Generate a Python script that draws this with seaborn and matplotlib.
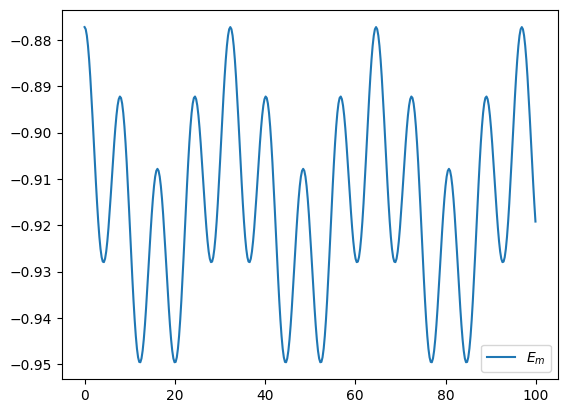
import numpy as np
import pandas as pd
import matplotlib
matplotlib.use("Agg")
import matplotlib.pyplot as plt
import seaborn as sns

# sampling step of the series (time units)
time_step = 0.25234375

# E_m values, one per time step
em_values = [
    -0.87720, -0.87766, -0.87903, -0.88126, -0.88425, -0.88792, -0.89211, -0.89667,
    -0.90145, -0.90625, -0.91092, -0.91528, -0.91918, -0.92248, -0.92508, -0.92688,
    -0.92784, -0.92794, -0.92720, -0.92566, -0.92340, -0.92054, -0.91720, -0.91354,
    -0.90973, -0.90592, -0.90231, -0.89904, -0.89628, -0.89415, -0.89276, -0.89219,
    -0.89250, -0.89369, -0.89576, -0.89864, -0.90225, -0.90648, -0.91119, -0.91623,
    -0.92144, -0.92663, -0.93162, -0.93627, -0.94040, -0.94388, -0.94661, -0.94849,
    -0.94948, -0.94955, -0.94873, -0.94706, -0.94462, -0.94153, -0.93791, -0.93391,
    -0.92972, -0.92548, -0.92139, -0.91760, -0.91427, -0.91152, -0.90948, -0.90823,
    -0.90780, -0.90823, -0.90948, -0.91152, -0.91427, -0.91760, -0.92139, -0.92548,
    -0.92972, -0.93391, -0.93791, -0.94153, -0.94462, -0.94706, -0.94873, -0.94955,
    -0.94948, -0.94849, -0.94661, -0.94388, -0.94040, -0.93627, -0.93162, -0.92663,
    -0.92144, -0.91623, -0.91119, -0.90648, -0.90225, -0.89864, -0.89576, -0.89369,
    -0.89250, -0.89219, -0.89276, -0.89415, -0.89628, -0.89904, -0.90231, -0.90592,
    -0.90973, -0.91354, -0.91720, -0.92054, -0.92340, -0.92566, -0.92720, -0.92794,
    -0.92784, -0.92688, -0.92508, -0.92248, -0.91918, -0.91528, -0.91092, -0.90625,
    -0.90145, -0.89667, -0.89211, -0.88792, -0.88425, -0.88126, -0.87903, -0.87766,
    -0.87720, -0.87766, -0.87903, -0.88126, -0.88425, -0.88792, -0.89211, -0.89667,
    -0.90145, -0.90625, -0.91092, -0.91528, -0.91918, -0.92248, -0.92508, -0.92688,
    -0.92784, -0.92794, -0.92720, -0.92566, -0.92340, -0.92054, -0.91720, -0.91354,
    -0.90973, -0.90592, -0.90231, -0.89904, -0.89628, -0.89415, -0.89276, -0.89219,
    -0.89250, -0.89369, -0.89576, -0.89864, -0.90225, -0.90648, -0.91119, -0.91623,
    -0.92144, -0.92663, -0.93162, -0.93627, -0.94040, -0.94388, -0.94661, -0.94849,
    -0.94948, -0.94955, -0.94873, -0.94706, -0.94462, -0.94153, -0.93791, -0.93391,
    -0.92972, -0.92548, -0.92139, -0.91760, -0.91427, -0.91152, -0.90948, -0.90823,
    -0.90780, -0.90823, -0.90948, -0.91152, -0.91427, -0.91760, -0.92139, -0.92548,
    -0.92972, -0.93391, -0.93791, -0.94153, -0.94462, -0.94706, -0.94873, -0.94955,
    -0.94948, -0.94849, -0.94661, -0.94388, -0.94040, -0.93627, -0.93162, -0.92663,
    -0.92144, -0.91623, -0.91119, -0.90648, -0.90225, -0.89864, -0.89576, -0.89369,
    -0.89250, -0.89219, -0.89276, -0.89415, -0.89628, -0.89904, -0.90231, -0.90592,
    -0.90973, -0.91354, -0.91720, -0.92054, -0.92340, -0.92566, -0.92720, -0.92794,
    -0.92784, -0.92688, -0.92508, -0.92248, -0.91918, -0.91528, -0.91092, -0.90625,
    -0.90145, -0.89667, -0.89211, -0.88792, -0.88425, -0.88126, -0.87903, -0.87766,
    -0.87720, -0.87766, -0.87903, -0.88126, -0.88425, -0.88792, -0.89211, -0.89667,
    -0.90145, -0.90625, -0.91092, -0.91528, -0.91918, -0.92248, -0.92508, -0.92688,
    -0.92784, -0.92794, -0.92720, -0.92566, -0.92340, -0.92054, -0.91720, -0.91354,
    -0.90973, -0.90592, -0.90231, -0.89904, -0.89628, -0.89415, -0.89276, -0.89219,
    -0.89250, -0.89369, -0.89576, -0.89864, -0.90225, -0.90648, -0.91119, -0.91623,
    -0.92144, -0.92663, -0.93162, -0.93627, -0.94040, -0.94388, -0.94661, -0.94849,
    -0.94948, -0.94955, -0.94873, -0.94706, -0.94462, -0.94153, -0.93791, -0.93391,
    -0.92972, -0.92548, -0.92139, -0.91760, -0.91427, -0.91152, -0.90948, -0.90823,
    -0.90780, -0.90823, -0.90948, -0.91152, -0.91427, -0.91760, -0.92139, -0.92548,
    -0.92972, -0.93391, -0.93791, -0.94153, -0.94462, -0.94706, -0.94873, -0.94955,
    -0.94948, -0.94849, -0.94661, -0.94388, -0.94040, -0.93627, -0.93162, -0.92663,
    -0.92144, -0.91623, -0.91119, -0.90648, -0.90225, -0.89864, -0.89576, -0.89369,
    -0.89250, -0.89219, -0.89276, -0.89415, -0.89628, -0.89904, -0.90231, -0.90592,
    -0.90973, -0.91354, -0.91720, -0.92054, -0.92340, -0.92566, -0.92720, -0.92794,
    -0.92784, -0.92688, -0.92508, -0.92248, -0.91918, -0.91528, -0.91092, -0.90625,
    -0.90145, -0.89667, -0.89211, -0.88792, -0.88425, -0.88126, -0.87903, -0.87766,
    -0.87720, -0.87766, -0.87903, -0.88126, -0.88425, -0.88792, -0.89211, -0.89667,
    -0.90145, -0.90625, -0.91092, -0.91528, -0.91918,
]

series_label = r"$E_m$"

time = np.arange(len(em_values)) * time_step
df = pd.DataFrame({"t": time, "E_m": em_values})

fig = plt.figure(figsize=(5.68, 4.13), dpi=100)
ax = fig.add_axes([0.1092, 0.0823, 0.8732, 0.8927])

sns.lineplot(data=df, x="t", y="E_m", ax=ax, color="#1f77b4", linewidth=1.5, label=series_label)

ax.set_xlabel("")
ax.set_ylabel("")
ax.set_xticks([0, 20, 40, 60, 80, 100])
ax.legend(loc="lower right")

fig.savefig("out.png", dpi=100)
